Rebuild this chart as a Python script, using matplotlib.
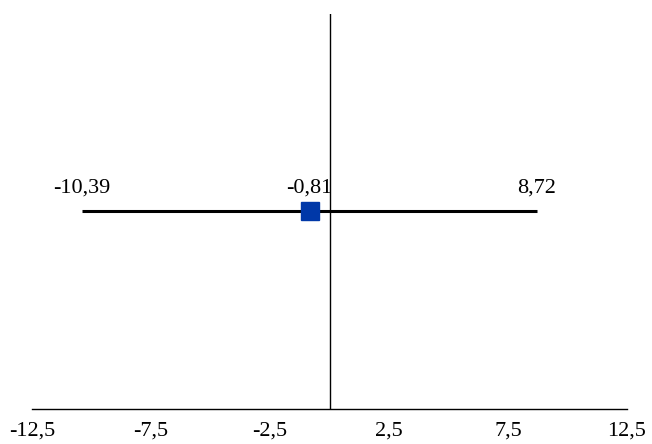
import matplotlib
matplotlib.use("Agg")
import matplotlib.pyplot as plt

estimate = [-0.81]
lower = [-10.39]
upper = [8.72]
row_y = [0.5]
xticks = [-12.5, -7.5, -2.5, 2.5, 7.5, 12.5]
xtick_labels = ["-12,5", "-7,5", "-2,5", "2,5", "7,5", "12,5"]

plt.rcParams['font.family'] = ['Liberation Serif', 'DejaVu Serif']

fig = plt.figure(figsize=(6.52, 4.44), dpi=100)
ax = fig.add_axes([32/652, 35/444, 595/652, 395/444])
ax.set_xlim(-12.5, 12.5)
ax.set_ylim(0, 1)

for s in ['top', 'right', 'left']:
    ax.spines[s].set_visible(False)
ax.spines['bottom'].set_linewidth(1.0)
ax.axvline(0, color='black', lw=1.0)

fmt = lambda v: f"{v:.2f}".replace('.', ',')
for e, lo, hi, y in zip(estimate, lower, upper, row_y):
    ax.plot([lo, hi], [y, y], color='black', lw=2.2, solid_capstyle='butt', zorder=2)
    ax.plot([e], [y], marker='s', ms=13.5, color='#0038A8', mec='#0038A8', zorder=3)
    for v in (lo, e, hi):
        ax.annotate(fmt(v), (v, y), xytext=(-1 if v == e else 0, 13.5), textcoords='offset points',
                    ha='center', va='baseline', fontsize=16)

ax.set_xticks(xticks)
ax.set_xticklabels(xtick_labels, fontsize=16)
ax.tick_params(axis='x', length=0, pad=9)
ax.set_yticks([])

fig.savefig('out.png', dpi=100)
